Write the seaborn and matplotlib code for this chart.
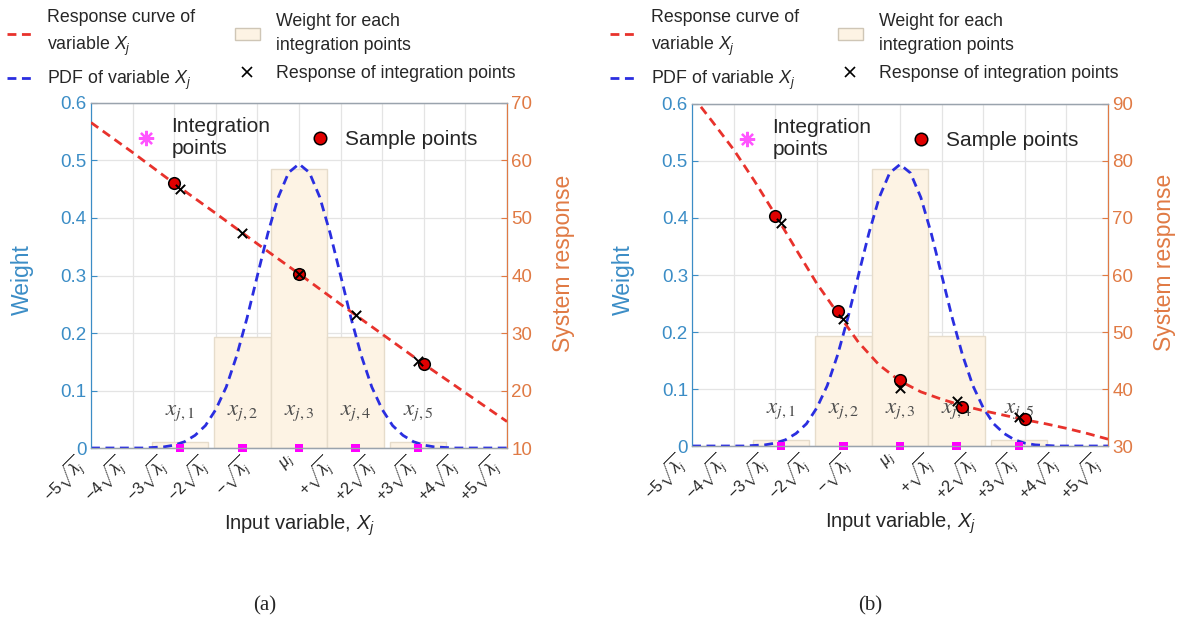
import numpy as np
import matplotlib.pyplot as plt
import seaborn as sns
from matplotlib.lines import Line2D
from matplotlib.patches import Patch

# ---- data (x in units of sqrt(lambda_j) around mu_j) ----
pdf_x = np.arange(-5, 5.001, 0.25)
pdf_y = [0.000, 0.000, 0.000, 0.000, 0.000, 0.000, 0.001, 0.002, 0.005, 0.011,
         0.022, 0.039, 0.067, 0.106, 0.160, 0.226, 0.300, 0.373, 0.436, 0.479,
         0.494,
         0.479, 0.436, 0.373, 0.300, 0.226, 0.160, 0.106, 0.067, 0.039, 0.022,
         0.011, 0.005, 0.002, 0.001, 0.000, 0.000, 0.000, 0.000, 0.000, 0.000]

resp_a_x = np.arange(-5, 5.001, 1.0)
resp_a_y = [66.6, 61.4, 56.0, 50.8, 45.5, 40.3, 35.0, 29.8, 24.6, 19.6, 14.6]

resp_b_x = np.arange(-5, 5.001, 0.5)
resp_b_y = [91.5, 86.8, 82.0, 76.5, 70.6, 64.5, 58.5, 53.3, 48.2, 44.2, 41.4,
            39.5, 38.2, 37.1, 36.2, 35.4, 34.6, 33.9, 33.1, 32.2, 31.2]

ip_x = [-2.86, -1.36, 0.0, 1.36, 2.86]
ip_w = [0.011, 0.193, 0.486, 0.193, 0.011]
ip_resp_a = [55.0, 47.4, 40.3, 33.1, 25.1]
ip_resp_b = [69.1, 52.3, 40.2, 37.9, 35.1]

sample_a_x = [-3.0, 0.0, 3.0]
sample_a_y = [56.1, 40.3, 24.6]
sample_b_x = [-3.0, -1.5, 0.0, 1.5, 3.0]
sample_b_y = [70.4, 53.7, 41.6, 36.9, 34.7]

xtick_pos = list(range(-5, 6))
xtick_labels = [r'$-5\sqrt{\lambda_j}$', r'$-4\sqrt{\lambda_j}$', r'$-3\sqrt{\lambda_j}$',
                r'$-2\sqrt{\lambda_j}$', r'$-\sqrt{\lambda_j}$', r'$\mu_j$',
                r'$+\sqrt{\lambda_j}$', r'$+2\sqrt{\lambda_j}$', r'$+3\sqrt{\lambda_j}$',
                r'$+4\sqrt{\lambda_j}$', r'$+5\sqrt{\lambda_j}$']
ip_labels = [r'$x_{j,1}$', r'$x_{j,2}$', r'$x_{j,3}$', r'$x_{j,4}$', r'$x_{j,5}$']
weight_ticks = [0, 0.1, 0.2, 0.3, 0.4, 0.5, 0.6]

# ---- style ----
sns.set_style("white")
plt.rcParams['font.family'] = ['Liberation Sans', 'DejaVu Sans']
plt.rcParams['mathtext.fontset'] = 'custom'
plt.rcParams['mathtext.rm'] = 'Liberation Sans'
plt.rcParams['mathtext.it'] = 'Liberation Sans:italic'

BLUE_AX = '#3b8dc6'
ORANGE_AX = '#e07a44'
RED = '#e8322c'
PDF_BLUE = '#2a2ee0'
BAR_FC = '#fdf3e4'
BAR_EC = '#e6dccb'
GRID = '#e4e4e4'
DASH = (0, (3.2, 2.0))

fig = plt.figure(figsize=(12.04, 6.28), dpi=100)


def draw_panel(rect, resp_x, resp_y, ip_resp, sx, sy, rlim, rticks, leg_x, caption, cap_x):
    ax = fig.add_axes(rect)
    ax.set_xlim(-5, 5)
    ax.set_ylim(0, 0.6)

    # grid
    for xv in xtick_pos:
        ax.axvline(xv, color=GRID, lw=0.9, zorder=0)
    for yv in weight_ticks:
        ax.axhline(yv, color=GRID, lw=0.9, zorder=0)

    # weights of the integration points
    ax.bar(ip_x, ip_w, width=1.36, color=BAR_FC, edgecolor=BAR_EC, linewidth=1.0, zorder=1)
    for xv, lab in zip(ip_x, ip_labels):
        ax.text(xv, 0.064, lab, ha='center', va='center', fontsize=16.5,
                color='#4d4d4d', math_fontfamily='stix', zorder=2)

    # PDF
    sns.lineplot(x=pdf_x, y=pdf_y, ax=ax, color=PDF_BLUE, lw=2.0, linestyle=DASH, zorder=3)
    # integration points
    sns.scatterplot(x=ip_x, y=[0.0] * len(ip_x), ax=ax, marker='s', s=40, color='#ff00ff',
                    edgecolor='none', zorder=5, clip_on=False)

    ax.set_xticks(xtick_pos)
    ax.set_xticklabels(xtick_labels, rotation=45, ha='right', fontsize=11.5)
    ax.set_yticks(weight_ticks)
    ax.set_yticklabels(['0', '0.1', '0.2', '0.3', '0.4', '0.5', '0.6'])
    ax.tick_params(axis='y', colors=BLUE_AX, labelsize=13.5, direction='in', length=4, pad=3)
    ax.tick_params(axis='x', length=0, pad=3)
    ax.set_xlabel(r'Input variable, $X_j$', fontsize=14.5, labelpad=4)
    ax.set_ylabel('Weight', fontsize=16.5, color=BLUE_AX)
    ax.yaxis.set_label_coords(-0.137, 0.487)
    ax.spines['left'].set_color(BLUE_AX)
    for s in ('top', 'bottom'):
        ax.spines[s].set_color('#9aa3ad')
        ax.spines[s].set_linewidth(0.9)

    # response on right axis
    ax2 = ax.twinx()
    ax2.set_ylim(*rlim)
    sns.lineplot(x=resp_x, y=resp_y, ax=ax2, color=RED, lw=2.0, linestyle=DASH, zorder=3)
    sns.scatterplot(x=sx, y=sy, ax=ax2, s=70, color='#e00000', edgecolor='black',
                    linewidth=1.1, zorder=4)
    sns.scatterplot(x=ip_x, y=ip_resp, ax=ax2, marker='x', s=45, color='black',
                    linewidth=1.4, zorder=5)
    ax2.set_yticks(rticks)
    ax2.tick_params(axis='y', colors=ORANGE_AX, labelsize=13.5, direction='in', length=4, pad=3)
    ax2.set_ylabel('System response', fontsize=16.5, color=ORANGE_AX)
    ax2.yaxis.set_label_coords(1.108, 0.536)
    ax2.spines['right'].set_color(ORANGE_AX)
    ax2.spines['left'].set_color(BLUE_AX)
    for s in ('top', 'bottom'):
        ax2.spines[s].set_color('#9aa3ad')
        ax2.spines[s].set_linewidth(0.9)

    # inner legend
    h_ip = Line2D([], [], linestyle='none', marker=(8, 2, 0), markersize=11,
                  markeredgecolor='#ff55ff', markeredgewidth=1.6)
    h_sp = Line2D([], [], linestyle='none', marker='o', markersize=9,
                  markerfacecolor='#e00000', markeredgecolor='black', markeredgewidth=1.1)
    ax2.legend([h_ip, h_sp], ['Integration\npoints', 'Sample points'], loc='upper left',
               bbox_to_anchor=(0.078, 0.995), frameon=False, ncol=2, fontsize=15,
               handlelength=1.0, handletextpad=0.7, columnspacing=1.9, borderaxespad=0.2)

    # outer legend
    handles = [Line2D([], [], color=RED, lw=2.0, linestyle=DASH),
               Line2D([], [], color=PDF_BLUE, lw=2.0, linestyle=DASH),
               Patch(facecolor=BAR_FC, edgecolor='#cfc6b6'),
               Line2D([], [], linestyle='none', marker='x', color='black', markersize=7,
                      markeredgewidth=1.2)]
    labels = ['Response curve of\nvariable $X_j$', 'PDF of variable $X_j$',
              'Weight for each\nintegration points', 'Response of integration points']
    leg = fig.legend(handles, labels, loc='upper left', bbox_to_anchor=(leg_x, 0.988),
                     ncol=2, frameon=False, fontsize=12.8, handlelength=1.4, handletextpad=0.9,
                     columnspacing=2.2, labelspacing=0.6, borderaxespad=0.0, borderpad=0.1)
    for t in leg.get_texts():
        t.set_linespacing(1.55)

    fig.text(cap_x, 0.035, caption, ha='center', va='center', fontsize=15,
             family='Liberation Serif')
    return ax, ax2


draw_panel([0.0756, 0.2866, 0.3455, 0.5494], resp_a_x, resp_a_y, ip_resp_a,
           sample_a_x, sample_a_y, (10, 70), [10, 20, 30, 40, 50, 60, 70], 0.004, '(a)', 0.22)
draw_panel([0.5748, 0.2898, 0.3455, 0.5446], resp_b_x, resp_b_y, ip_resp_b,
           sample_b_x, sample_b_y, (30, 90), [30, 40, 50, 60, 70, 80, 90], 0.505, '(b)', 0.723)

fig.savefig('out.png', dpi=100)
